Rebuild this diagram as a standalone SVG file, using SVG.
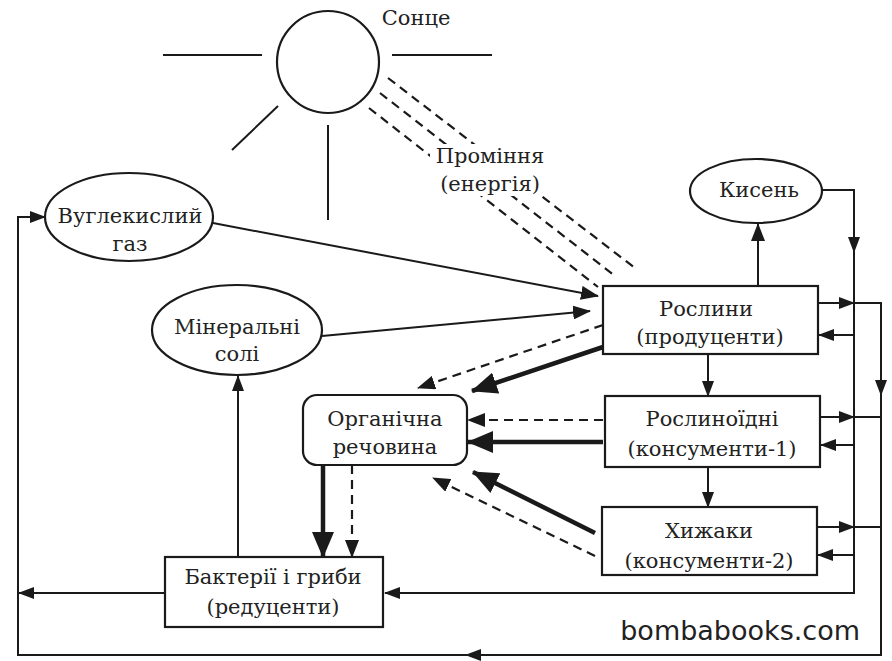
<svg xmlns="http://www.w3.org/2000/svg" width="892" height="661" viewBox="0 0 892 661">
<defs>
<marker id="ah" markerUnits="userSpaceOnUse" markerWidth="16" markerHeight="12" refX="15" refY="6" orient="auto"><path d="M0,0 L16,6 L0,12 z" fill="#1a1a1a"/></marker>
<marker id="ahm" markerUnits="userSpaceOnUse" markerWidth="18" markerHeight="14" refX="17" refY="7" orient="auto"><path d="M0,0 L18,7 L0,14 z" fill="#1a1a1a"/></marker>
<marker id="ahb" markerUnits="userSpaceOnUse" markerWidth="26" markerHeight="22" refX="25" refY="11" orient="auto"><path d="M0,0 L26,11 L0,22 z" fill="#1a1a1a"/></marker>
</defs>
<style>
.ln{fill:none;stroke:#1a1a1a;stroke-width:2}
.th{fill:none;stroke:#1a1a1a;stroke-width:4.5}
.ds{fill:none;stroke:#1a1a1a;stroke-width:2.2;stroke-dasharray:9,6}
.nd{fill:#fff;stroke:#1a1a1a;stroke-width:2.2}
.t{font-family:"DejaVu Serif","Liberation Serif",serif;font-size:21px;fill:#222;text-anchor:middle}
</style>
<rect width="892" height="661" fill="#fff"/>
<g id="sun">
<circle cx="328" cy="62" r="51" class="nd"/>
<line x1="163" y1="55" x2="262" y2="55" class="ln" stroke-width="2.5"/>
<line x1="392" y1="55" x2="492" y2="55" class="ln" stroke-width="2.5"/>
<line x1="278" y1="106" x2="232" y2="150" class="ln"/>
<line x1="328" y1="125" x2="328" y2="220" class="ln"/>
<text x="416" y="25" class="t">Сонце</text>
</g>
<g id="rays">
<line x1="388" y1="78" x2="635" y2="268" class="ds"/>
<line x1="380" y1="93" x2="615" y2="276" class="ds"/>
<line x1="369" y1="108" x2="598" y2="287" class="ds"/>
<rect x="430" y="144" width="122" height="52" fill="#fff"/>
<text x="490" y="163" class="t">Проміння</text>
<text x="490" y="191" class="t">(енергія)</text>
</g>
<g id="connectors">
<line x1="213" y1="223" x2="598" y2="296" class="ln" marker-end="url(#ahm)"/>
<line x1="322" y1="336" x2="590" y2="311" class="ln" marker-end="url(#ahm)"/>
<line x1="758" y1="286" x2="758" y2="224" class="ln" stroke-width="3.5" marker-end="url(#ahm)"/>
<path d="M822,190 H854 V252" class="ln" marker-end="url(#ah)"/>
<path d="M854,240 V593 H385" class="ln" marker-end="url(#ah)"/>
<path d="M818,303 H854" class="ln" marker-end="url(#ah)"/>
<path d="M854,303 H881 V395" class="ln" marker-end="url(#ah)"/>
<path d="M881,385 V655 H466" class="ln" marker-end="url(#ah)"/>
<path d="M476,655 H18 V217 H45" class="ln" marker-end="url(#ah)"/>
<path d="M820,417 H854" class="ln" marker-end="url(#ah)"/>
<line x1="854" y1="417" x2="881" y2="417" class="ln"/>
<path d="M817,527 H854" class="ln" marker-end="url(#ah)"/>
<line x1="854" y1="527" x2="881" y2="527" class="ln"/>
<path d="M854,335 H819" class="ln" marker-end="url(#ah)"/>
<path d="M854,445 H821" class="ln" marker-end="url(#ah)"/>
<path d="M854,555 H818" class="ln" marker-end="url(#ah)"/>
<path d="M165,593 H19" class="ln" marker-end="url(#ah)"/>
<path d="M238,557 V376" class="ln" marker-end="url(#ah)"/>
<path d="M708,354 V396" class="ln" marker-end="url(#ah)"/>
<path d="M708,467 V507" class="ln" marker-end="url(#ah)"/>
<line x1="603" y1="347" x2="472" y2="391" class="th" marker-end="url(#ahb)"/>
<line x1="603" y1="442" x2="468" y2="442" class="th" marker-end="url(#ahb)"/>
<line x1="595" y1="533" x2="473" y2="472" class="th" marker-end="url(#ahb)"/>
<line x1="323" y1="465" x2="323" y2="557" class="th" marker-end="url(#ahb)"/>
<line x1="603" y1="325" x2="418" y2="388" class="ds" marker-end="url(#ahm)"/>
<line x1="603" y1="420" x2="468" y2="420" class="ds" marker-end="url(#ahm)"/>
<line x1="595" y1="556" x2="433" y2="478" class="ds" marker-end="url(#ahm)"/>
<line x1="352" y1="465" x2="352" y2="557" class="ds" marker-end="url(#ahm)"/>
</g>
<g id="co2">
<ellipse cx="129" cy="217" rx="84" ry="44" class="nd"/>
<text x="130" y="223" class="t">Вуглекислий</text>
<text x="130" y="251" class="t">газ</text>
</g>
<g id="oxygen">
<ellipse cx="756" cy="191" rx="66" ry="32" class="nd"/>
<text x="759" y="197" class="t">Кисень</text>
</g>
<g id="minerals">
<ellipse cx="237" cy="330" rx="85" ry="45" class="nd"/>
<text x="237" y="334" class="t">Мінеральні</text>
<text x="237" y="361" class="t">солі</text>
</g>
<g id="plants">
<rect x="603" y="286" width="215" height="68" class="nd"/>
<text x="706" y="316" class="t">Рослини</text>
<text x="710" y="344" class="t">(продуценти)</text>
</g>
<g id="herbivores">
<rect x="605" y="396" width="215" height="71" class="nd"/>
<text x="712" y="426" class="t">Рослиноїдні</text>
<text x="712" y="456" class="t">(консументи-1)</text>
</g>
<g id="predators">
<rect x="602" y="507" width="215" height="68" class="nd"/>
<text x="709" y="538" class="t">Хижаки</text>
<text x="709" y="568" class="t">(консументи-2)</text>
</g>
<g id="organic">
<rect x="303" y="395" width="164" height="70" rx="14" class="nd"/>
<text x="385" y="426" class="t">Органічна</text>
<text x="385" y="454" class="t">речовина</text>
</g>
<g id="decomposers">
<rect x="165" y="557" width="218" height="70" class="nd"/>
<text x="273" y="584" class="t">Бактерії і гриби</text>
<text x="273" y="614" class="t">(редуценти)</text>
</g>
<text x="860" y="640" font-family="'DejaVu Sans','Liberation Sans',sans-serif" font-size="27" fill="#222" text-anchor="end">bombabooks.com</text>
</svg>
